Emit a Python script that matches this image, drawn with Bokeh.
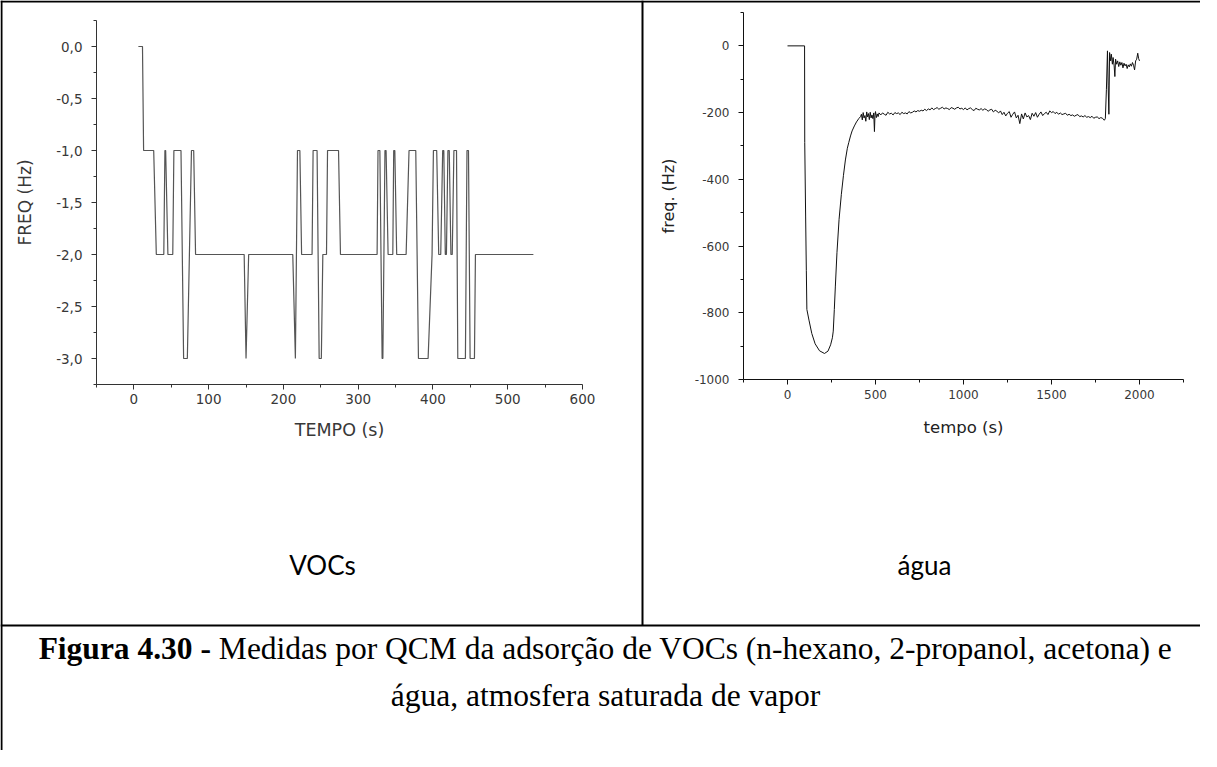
import math
from bokeh.plotting import figure
from bokeh.models import Range1d, LinearAxis, FixedTicker, CustomJSTickFormatter
from bokeh.core.properties import value
from bokeh.embed import file_html
from bokeh.resources import INLINE

# ---------------- data: VOCs (left chart) ----------------
VOC_TEMPO = [6, 11.5, 13, 26.5, 30, 40, 41.5, 42.5, 45.5, 52,
             53.5, 63, 66.5, 71.5, 77, 80, 82.5, 147.5, 150, 153.5,
             212.5, 216, 218.8, 222, 224.3, 238.3, 239.7, 245, 247.8, 250.7,
             252.7, 257.6, 259, 273.7, 276.3, 325.3, 326.5, 329, 332, 333,
             335.8, 337.3, 340, 346.3, 347.5, 349, 351.5, 364.1, 368, 377,
             380.6, 393.5, 398.8, 400.6, 405, 407.7, 410.4, 413, 414.5, 416.5,
             418, 420, 421.8, 424, 425.8, 428, 431.5, 433.2, 443.4, 445.5,
             447.5, 449.7, 455.5, 456.8, 534.3]
VOC_FREQ = [0, 0, -1, -1, -2, -2, -1, -1, -2, -2,
            -1, -1, -3, -3, -1, -1, -2, -2, -3, -2,
            -2, -3, -1, -1, -2, -2, -1, -1, -3, -3,
            -2, -2, -1, -1, -2, -2, -1, -1, -3, -3,
            -1, -1, -2, -2, -1, -1, -2, -2, -1, -1,
            -3, -3, -2, -1, -1, -2, -2, -1, -1, -2,
            -2, -1, -1, -2, -2, -1, -1, -3, -3, -1,
            -1, -3, -3, -2, -2]

# ---------------- data: water (right chart) ----------------
WATER_TEMPO = [0, 97, 98, 103, 107, 110, 122, 138, 157, 182,
               210, 230, 245, 255, 260, 266, 272, 281, 293, 306,
               318, 329, 340, 348, 358, 367, 380, 392, 405, 415,
               420, 425, 430, 435, 440, 445, 450, 455, 460, 465,
               470, 475, 480, 485, 490, 494, 497, 500, 505, 510,
               515, 520, 530, 540, 550, 560, 570, 580, 590, 600,
               610, 620, 630, 640, 650, 660, 670, 680, 690, 700,
               710, 720, 730, 740, 750, 760, 770, 780, 790, 800,
               810, 820, 830, 840, 850, 860, 870, 880, 890, 900,
               910, 920, 930, 940, 950, 960, 970, 980, 990, 1000,
               1010, 1020, 1030, 1040, 1050, 1060, 1070, 1080, 1090, 1100,
               1110, 1120, 1130, 1140, 1150, 1160, 1170, 1180, 1190, 1200,
               1210, 1220, 1230, 1240, 1250, 1260, 1270, 1280, 1290, 1300,
               1310, 1320, 1330, 1340, 1350, 1360, 1370, 1380, 1390, 1400,
               1410, 1420, 1430, 1440, 1450, 1460, 1470, 1480, 1490, 1500,
               1510, 1520, 1530, 1540, 1550, 1560, 1570, 1580, 1590, 1600,
               1610, 1620, 1630, 1640, 1650, 1660, 1670, 1680, 1690, 1700,
               1710, 1720, 1730, 1740, 1750, 1760, 1770, 1780, 1790, 1800,
               1806, 1812, 1818, 1822, 1826, 1830, 1836, 1840, 1846, 1850,
               1856, 1860, 1864, 1870, 1876, 1882, 1888, 1894, 1900, 1906,
               1912, 1918, 1924, 1930, 1936, 1942, 1948, 1954, 1960, 1966,
               1972, 1978, 1984, 1990, 1995, 2000]
WATER_FREQ = [0, 0, -290, -510, -674, -790, -822, -862, -893, -914,
              -922, -915, -896, -875, -855, -790, -720, -620, -520, -445,
              -388, -342, -307, -290, -270, -255, -240, -228, -218, -212,
              -205, -222, -200, -216, -209, -226, -198, -213, -203, -221,
              -199, -216, -207, -218, -201, -257, -208, -197, -215, -204,
              -212, -201, -207, -201, -205, -208, -199, -204, -202, -207,
              -200, -203, -201, -206, -199, -203, -201, -204, -197, -201,
              -199, -195, -198, -194, -196, -193, -195, -190, -194, -189,
              -192, -186, -191, -188, -185, -190, -187, -184, -189, -186,
              -188, -191, -185, -187, -190, -186, -184, -189, -187, -191,
              -186, -192, -188, -186, -191, -194, -187, -190, -192, -188,
              -193, -189, -191, -196, -192, -190, -198, -193, -196, -201,
              -195, -206, -199, -210, -202, -197, -214, -205, -198, -216,
              -208, -233, -204, -219, -201, -213, -209, -221, -202, -211,
              -200, -214, -205, -198, -209, -203, -199, -206, -195, -200,
              -197, -203, -199, -205, -201, -206, -204, -202, -208, -205,
              -209, -207, -211, -208, -206, -212, -210, -213, -209, -214,
              -212, -215, -211, -217, -214, -213, -218, -215, -217, -223,
              -218, -130, -15, -120, -205, -20, -45, -25, -55, -35,
              -60, -92, -40, -55, -45, -62, -48, -58, -50, -66,
              -52, -60, -55, -68, -57, -63, -54, -61, -50, -58,
              -72, -45, -40, -22, -38, -45]

# ---------------- ticks / labels ----------------
VOC_X_BOUNDS = (-50, 600)
VOC_Y_BOUNDS = (-3.25, 0.25)
VOC_X_TICKS = [0, 100, 200, 300, 400, 500, 600]
VOC_X_LABELS = ["0", "100", "200", "300", "400", "500", "600"]
VOC_X_MINOR = [-50, 50, 150, 250, 350, 450, 550]
VOC_Y_TICKS = [0.0, -0.5, -1.0, -1.5, -2.0, -2.5, -3.0]
VOC_Y_LABELS = ["0,0", "-0,5", "-1,0", "-1,5", "-2,0", "-2,5", "-3,0"]
VOC_Y_MINOR = [0.25, -0.25, -0.75, -1.25, -1.75, -2.25, -2.75, -3.25]

WATER_X_BOUNDS = (-250, 2250)
WATER_Y_BOUNDS = (-1000, 100)
WATER_X_TICKS = [0, 500, 1000, 1500, 2000]
WATER_X_LABELS = ["0", "500", "1000", "1500", "2000"]
WATER_X_MINOR = [-250, 250, 750, 1250, 1750, 2250]
WATER_Y_TICKS = [0, -200, -400, -600, -800, -1000]
WATER_Y_LABELS = ["0", "-200", "-400", "-600", "-800", "-1000"]
WATER_Y_MINOR = [100, -100, -300, -500, -700, -900]

AXIS_TITLES = dict(voc_x="TEMPO (s)", voc_y="FREQ (Hz)", water_x="tempo (s)", water_y="freq. (Hz)")
CELL_LABELS = ["VOCs", "água"]
CAPTION_BOLD = "Figura 4.30 -"
CAPTION_LINE_1 = "Medidas por QCM da adsorção de VOCs (n-hexano, 2-propanol, acetona) e"
CAPTION_LINE_2 = "água, atmosfera saturada de vapor"

# ---------------- layout (page pixels) ----------------
PAGE_W, PAGE_H, MARGIN = 1200, 750, 8
VOC_AREA = dict(x0=104, x1=590, y_top=28, y_bot=392)
WATER_AREA = dict(x0=751, x1=1191, y_top=20, y_bot=387)
DIV_X, DIV_Y = 650, 633
CAP_FS = 31.5
CAP_XC, CAP_Y1, CAP_Y2 = 613, 656, 703

# approximate Times / Liberation Serif advance widths (per 1000 em) to split the mixed-weight line
SERIF_REG = {' ': 250, '(': 333, ')': 333, ',': 250, '-': 333, '.': 250, 'C': 667, 'M': 889, 'O': 722,
             'Q': 722, 'V': 722, 'a': 444, 'c': 444, 'd': 500, 'e': 444, 'f': 333, 'g': 500, 'h': 500,
             'i': 278, 'l': 278, 'm': 778, 'n': 500, 'o': 500, 'p': 500, 'r': 333, 's': 389, 't': 278,
             'u': 500, 'v': 500, 'x': 500, 'z': 444, 'ç': 444, 'ã': 444, 'á': 444}
SERIF_BOLD = {' ': 250, 'F': 611, 'i': 278, 'g': 500, 'u': 556, 'r': 444, 'a': 500, '.': 250, '-': 333}

p = figure(width=PAGE_W, height=PAGE_H, output_backend="svg", toolbar_location=None, tools="",
           x_axis_type=None, y_axis_type=None,
           x_range=Range1d(MARGIN, MARGIN + PAGE_W), y_range=Range1d(MARGIN + PAGE_H, MARGIN),
           min_border=0, min_border_left=0, min_border_right=0, min_border_top=0, min_border_bottom=0)
p.outline_line_color = None
p.background_fill_color = "white"
p.border_fill_color = "white"


def mapped(p_a, p_b, d_a, d_b, p_lo, p_hi):
    k = (d_b - d_a) / (p_b - p_a)
    return Range1d(start=d_a + (p_lo - p_a) * k, end=d_a + (p_hi - p_a) * k)


def fmt(vals, labs):
    return CustomJSTickFormatter(args=dict(vals=vals, labs=labs),
                                 code="const i = vals.indexOf(tick); return i < 0 ? '' : labs[i];")


def add_chart(name, area, xb, yb, xt, xm, xl, yt, ym, yl, color, lab_size, y_standoff, x_standoff):
    xr, yr = name + "_x", name + "_y"
    p.extra_x_ranges[xr] = mapped(area["x0"], area["x1"], xb[0], xb[1], MARGIN, MARGIN + PAGE_W)
    p.extra_y_ranges[yr] = mapped(area["y_bot"], area["y_top"], yb[0], yb[1], MARGIN + PAGE_H, MARGIN)
    xa = LinearAxis(x_range_name=xr, y_range_name=yr, fixed_location=yb[0], bounds=xb,
                    ticker=FixedTicker(ticks=xt, minor_ticks=xm), formatter=fmt(xt, xl))
    ya = LinearAxis(x_range_name=xr, y_range_name=yr, fixed_location=xb[0], bounds=yb,
                    ticker=FixedTicker(ticks=yt, minor_ticks=ym), formatter=fmt(yt, yl))
    for ax, so in ((xa, x_standoff), (ya, y_standoff)):
        ax.axis_line_color = color
        ax.axis_line_width = 1
        ax.major_tick_line_color = color
        ax.minor_tick_line_color = color
        ax.major_tick_in = 0
        ax.major_tick_out = 5
        ax.minor_tick_in = 0
        ax.minor_tick_out = 3
        ax.major_label_text_font = "DejaVu Sans"
        ax.major_label_text_font_size = lab_size
        ax.major_label_text_color = "#383838"
        ax.major_label_standoff = so
    p.add_layout(xa, "below")
    p.add_layout(ya, "left")
    return xr, yr


vx, vy = add_chart("voc", VOC_AREA, VOC_X_BOUNDS, VOC_Y_BOUNDS, VOC_X_TICKS, VOC_X_MINOR, VOC_X_LABELS,
                   VOC_Y_TICKS, VOC_Y_MINOR, VOC_Y_LABELS, "#333333", "13.5px", 9, 4)
wx, wy = add_chart("water", WATER_AREA, WATER_X_BOUNDS, WATER_Y_BOUNDS, WATER_X_TICKS, WATER_X_MINOR,
                   WATER_X_LABELS, WATER_Y_TICKS, WATER_Y_MINOR, WATER_Y_LABELS, "#111111", "12px", 9, 5)

p.line(VOC_TEMPO, VOC_FREQ, x_range_name=vx, y_range_name=vy, line_color="#555555", line_width=1.2)
p.line(WATER_TEMPO, WATER_FREQ, x_range_name=wx, y_range_name=wy, line_color="#111111", line_width=1)

# axis titles (page coordinates)
af = value("DejaVu Sans")
p.text(x=[(VOC_AREA["x0"] + VOC_AREA["x1"]) / 2], y=[437], text=[AXIS_TITLES["voc_x"]], text_font=af,
       text_font_size="17.5px", text_color="#383838", text_align="center", text_baseline="middle")
p.text(x=[32], y=[(VOC_AREA["y_top"] + VOC_AREA["y_bot"]) / 2], text=[AXIS_TITLES["voc_y"]], text_font=af,
       text_font_size="17px", text_color="#383838", text_align="center", text_baseline="middle", angle=math.pi / 2)
p.text(x=[(WATER_AREA["x0"] + WATER_AREA["x1"]) / 2], y=[435], text=[AXIS_TITLES["water_x"]], text_font=af,
       text_font_size="16.5px", text_color="#222222", text_align="center", text_baseline="middle")
p.text(x=[676], y=[(WATER_AREA["y_top"] + WATER_AREA["y_bot"]) / 2], text=[AXIS_TITLES["water_y"]], text_font=af,
       text_font_size="16px", text_color="#222222", text_align="center", text_baseline="middle", angle=math.pi / 2)

# table borders
p.segment(x0=[MARGIN, 9, DIV_X, MARGIN], y0=[9, MARGIN, MARGIN, DIV_Y],
          x1=[MARGIN + PAGE_W, 9, DIV_X, MARGIN + PAGE_W], y1=[9, MARGIN + PAGE_H, DIV_Y, DIV_Y],
          line_color="black", line_width=2)

# cell labels
p.text(x=[330, 932], y=[572, 572], text=CELL_LABELS, text_font=value("Lato"),
       text_font_size="26px", text_color="black", text_align="center", text_baseline="middle")

# caption: bold lead-in + regular text, centred as one line
serif = value("Liberation Serif")
w_bold = sum(SERIF_BOLD.get(c, 500) for c in CAPTION_BOLD) / 1000.0 * CAP_FS
w_space = SERIF_REG[' '] / 1000.0 * CAP_FS
w_reg = sum(SERIF_REG.get(c, 500) for c in CAPTION_LINE_1) / 1000.0 * CAP_FS
x_start = CAP_XC - (w_bold + w_space + w_reg) / 2
p.text(x=[x_start], y=[CAP_Y1], text=[CAPTION_BOLD], text_font=serif, text_font_style="bold",
       text_font_size=f"{CAP_FS}px", text_color="black", text_align="left", text_baseline="middle")
p.text(x=[x_start + w_bold + w_space], y=[CAP_Y1], text=[CAPTION_LINE_1], text_font=serif,
       text_font_size=f"{CAP_FS}px", text_color="black", text_align="left", text_baseline="middle")
p.text(x=[CAP_XC], y=[CAP_Y2], text=[CAPTION_LINE_2], text_font=serif,
       text_font_size=f"{CAP_FS}px", text_color="black", text_align="center", text_baseline="middle")

open("out.html", "w").write(file_html(p, INLINE, title="QCM"))
